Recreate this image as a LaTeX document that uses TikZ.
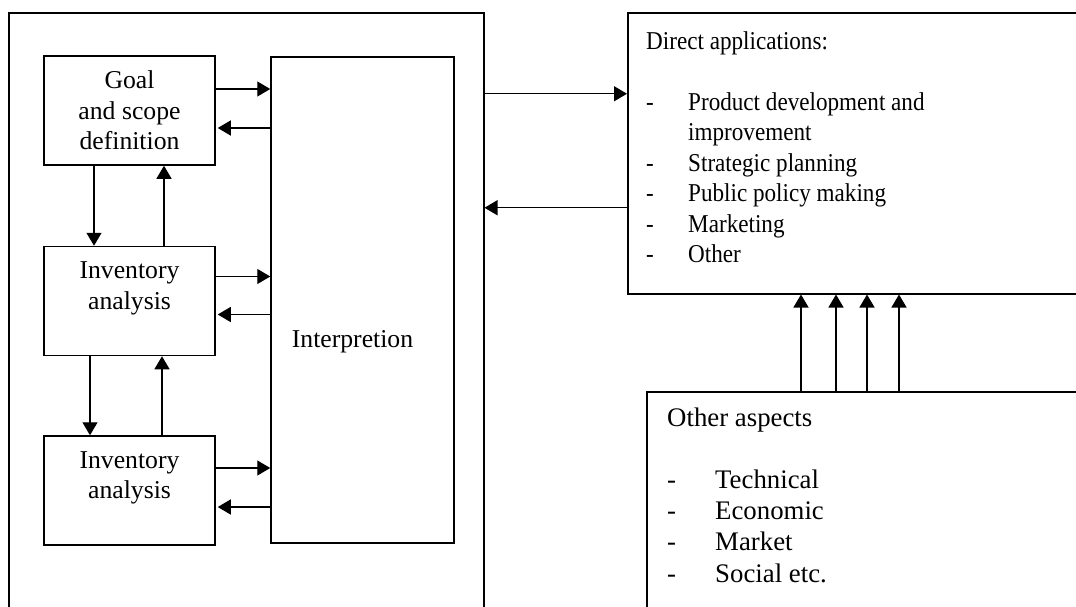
\documentclass[tikz,border=0pt]{standalone}
\usepackage{fontspec}
\setmainfont{Liberation Serif}
\usetikzlibrary{positioning, arrows.meta}

\newcommand{\dashitem}[2][42pt]{\makebox[#1][l]{-}#2}

\begin{document}
\begin{tikzpicture}[x=1pt,y=-1pt]
\tikzstyle{every node}=[font=\fontsize{25.7}{30.5}\selectfont]
\tikzstyle{box}=[draw, line width=1.5pt, inner sep=0pt]
\tikzstyle{stage}=[box, align=center, minimum width=171pt, minimum height=109pt]
\tikzstyle{flow}=[draw, line width=1.3pt, -{Triangle[length=13pt,width=15pt]}]

\useasboundingbox (0,0) rectangle (1076,606);
\clip (0,0) rectangle (1076,606);

% framework
\node[box, anchor=north west, minimum width=475pt, minimum height=640pt] (frame) at (8,12) {};
\node[stage] (goal) at (129.5,110.5) {Goal\\and scope\\definition};
\node[stage, below=80pt of goal] (inv1) {Inventory\\analysis\\~};
\node[stage, below=79pt of inv1] (inv2) {Inventory\\analysis\\~};
\node[box, minimum width=183pt, minimum height=486pt,
      label={[xshift=-10pt,yshift=-42pt]center:Interpretion}] (interp) at (362.5,300) {};

% applications
\node[box, anchor=north west, minimum width=480pt, minimum height=281pt,
      label={[anchor=north west, align=left, inner sep=0pt, xshift=19pt, yshift=-19pt,
              xscale=0.9, transform shape]north west:{Direct applications:\\[30.5pt]
      \dashitem[46.7pt]{Product development and}\\
      \hspace*{46.7pt}improvement\\
      \dashitem[46.7pt]{Strategic planning}\\
      \dashitem[46.7pt]{Public policy making}\\
      \dashitem[46.7pt]{Marketing}\\
      \dashitem[46.7pt]{Other}}}] (direct) at (627,12) {};
\node[box, anchor=north west, minimum width=460pt, minimum height=260pt,
      label={[anchor=north west, align=left, inner sep=0pt, xshift=21pt, yshift=-17pt,
              font=\fontsize{26.8}{31.3}\selectfont]north west:{Other aspects\\[30pt]
      \dashitem[48pt]{Technical}\\
      \dashitem[48pt]{Economic}\\
      \dashitem[48pt]{Market}\\
      \dashitem[48pt]{Social etc.}}}] (other) at (646,391) {};

% stages <-> interpretation
\draw[flow] ([yshift=21.5pt]goal.east) -- ([yshift=21.5pt]goal.east -| interp.west);
\draw[flow, shorten >=2pt] ([yshift=-17.5pt]goal.east -| interp.west) -- ([yshift=-17.5pt]goal.east);
\draw[flow] ([yshift=24.5pt]inv1.east) -- ([yshift=24.5pt]inv1.east -| interp.west);
\draw[flow, shorten >=2pt] ([yshift=-13.5pt]inv1.east -| interp.west) -- ([yshift=-13.5pt]inv1.east);
\draw[flow] ([yshift=22.5pt]inv2.east) -- ([yshift=22.5pt]inv2.east -| interp.west);
\draw[flow, shorten >=2pt] ([yshift=-16.5pt]inv2.east -| interp.west) -- ([yshift=-16.5pt]inv2.east);

% stages up and down
\draw[flow] ([xshift=-35.5pt]goal.south) -- ([xshift=-35.5pt]inv1.north);
\draw[flow] ([xshift=34.5pt]inv1.north) -- ([xshift=34.5pt]goal.south);
\draw[flow] ([xshift=-39.5pt]inv1.south) -- ([xshift=-39.5pt]inv2.north);
\draw[flow] ([xshift=32.5pt]inv2.north) -- ([xshift=32.5pt]inv1.south);

% framework <-> applications
\draw[flow] ([yshift=59.5pt]direct.west -| frame.east) -- ([yshift=59.5pt]direct.west);
\draw[flow] ([yshift=-54.5pt]direct.west) -- ([yshift=-54.5pt]direct.west -| frame.east);

% other aspects -> applications
\foreach \d in {155,190,221,253}
  \draw[flow] ([xshift=\d pt]other.north west) -- ([xshift=\d pt]other.north west |- direct.south);
\end{tikzpicture}
\end{document}
